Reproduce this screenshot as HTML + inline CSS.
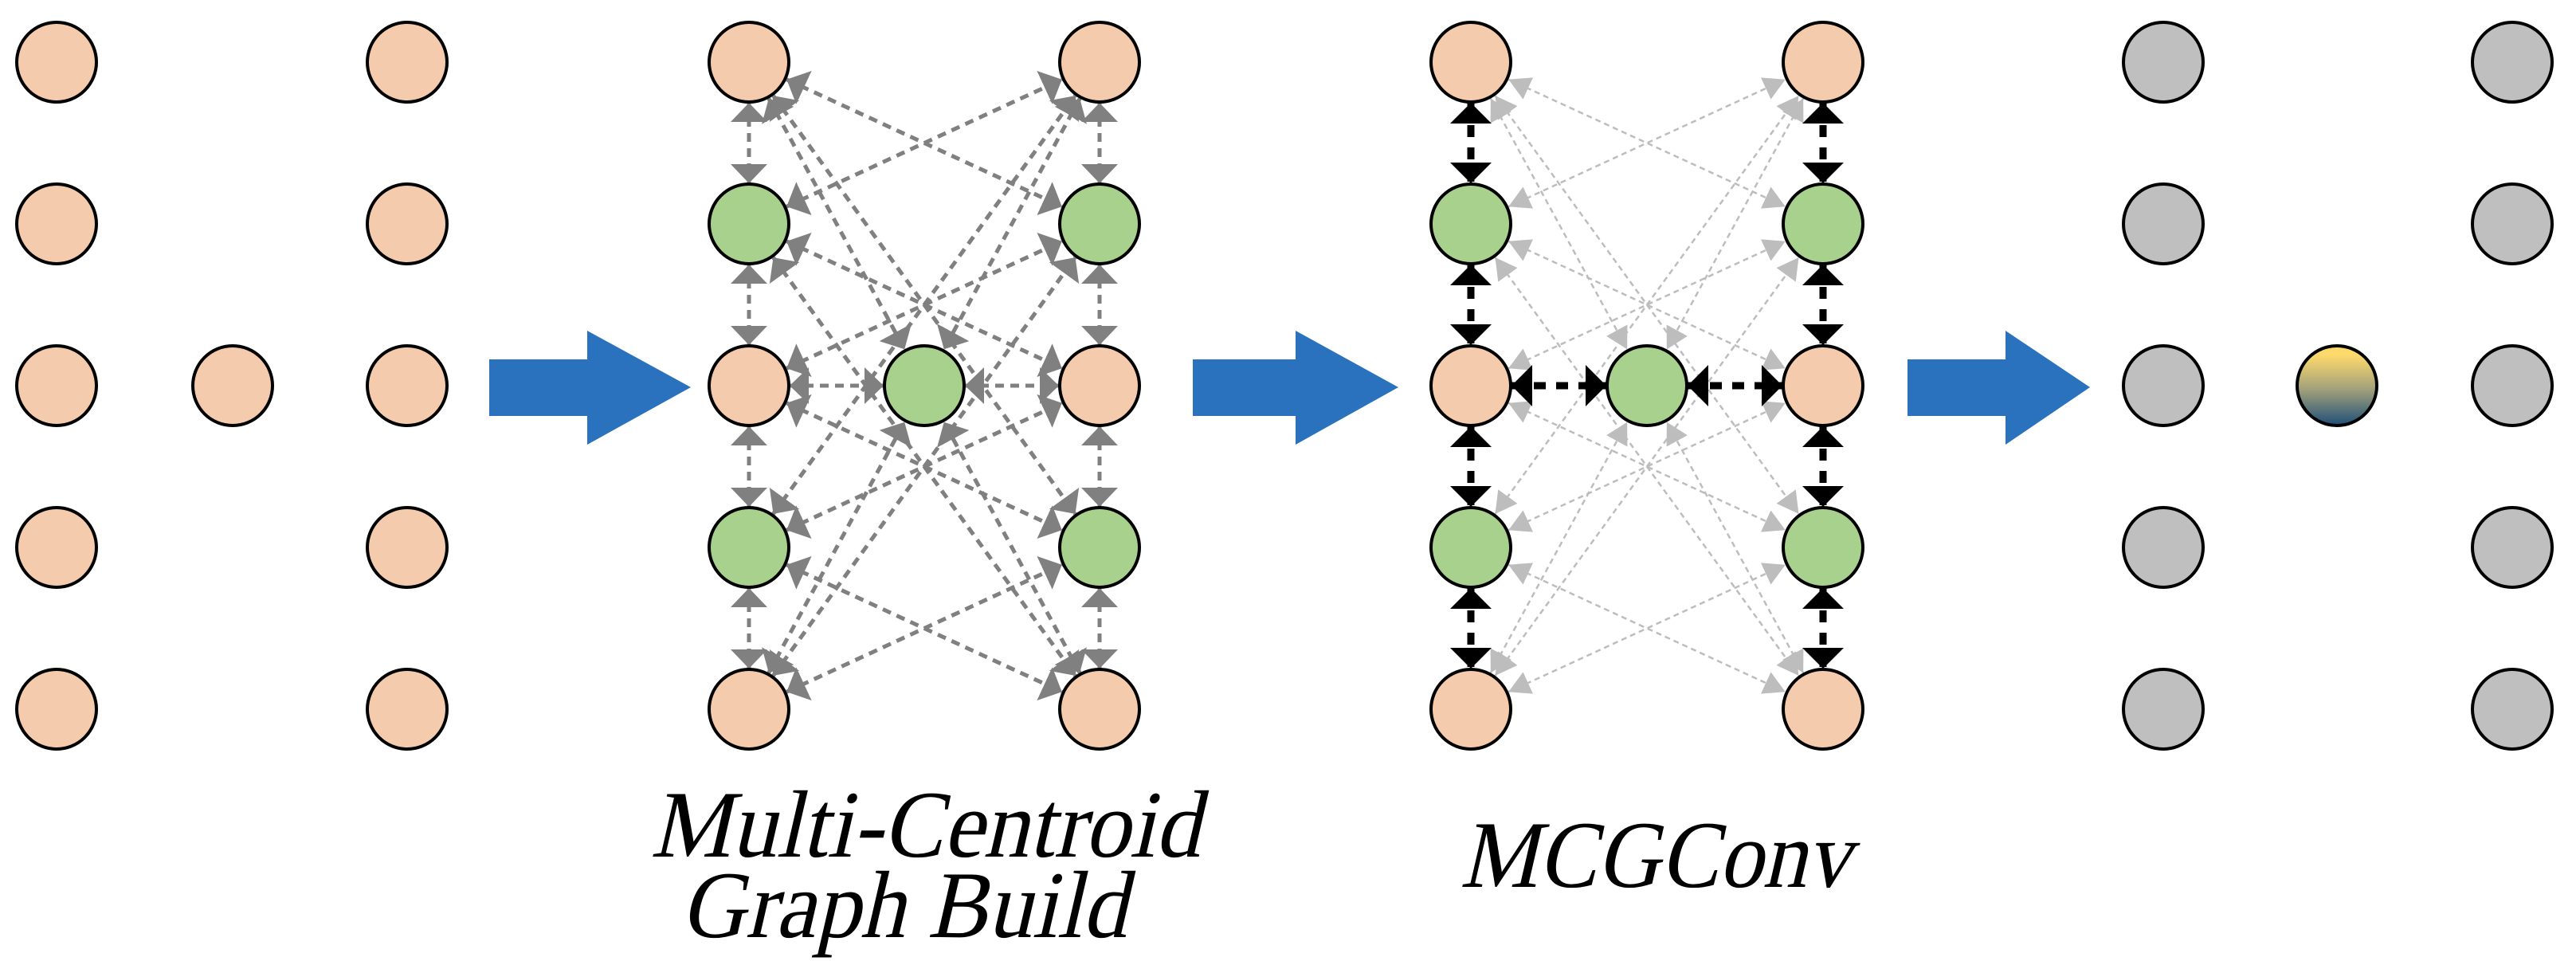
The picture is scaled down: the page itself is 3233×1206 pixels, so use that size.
<!DOCTYPE html>
<html><head><meta charset="utf-8"><style>
html,body{margin:0;padding:0;background:#fff;}
svg{display:block}
.t{font-family:"Liberation Serif","DejaVu Serif",serif;font-style:normal;font-size:120px;fill:#000;}
</style></head><body>
<svg id="s" width="3233" height="1206" viewBox="0 0 3233 1206" xmlns="http://www.w3.org/2000/svg">
<defs>
<linearGradient id="g" x1="0" y1="0" x2="0" y2="1">
<stop offset="0.12" stop-color="#fdd96c"/><stop offset="0.55" stop-color="#a0a07a"/><stop offset="1" stop-color="#1f4e79"/>
</linearGradient>
<marker id="mg" viewBox="0 0 24 46" refX="24" refY="23" markerWidth="24" markerHeight="46" markerUnits="userSpaceOnUse" orient="auto-start-reverse"><path d="M0,0 L24,23 L0,46 Z" fill="#808080"/></marker>
<marker id="ml" viewBox="0 0 27 30" refX="27" refY="15" markerWidth="27" markerHeight="30" markerUnits="userSpaceOnUse" orient="auto-start-reverse"><path d="M0,0 L27,15 L0,30 Z" fill="#bdbdbd"/></marker>
<marker id="mb" viewBox="0 0 26 52" refX="26" refY="26" markerWidth="26" markerHeight="52" markerUnits="userSpaceOnUse" orient="auto-start-reverse"><path d="M0,0 L26,26 L0,52 Z" fill="#000"/></marker>
</defs>
<g id="edges"></g>
<g id="nodes" stroke="#000" stroke-width="4"></g>
<polygon points="614,451 737,451 737,415 867,486 737,558 737,522 614,522" fill="#2a72bd"/>
<polygon points="1497,451 1626,451 1626,415 1755,486 1626,558 1626,522 1497,522" fill="#2a72bd"/>
<polygon points="2394,451 2517,451 2517,415 2623,486 2517,558 2517,522 2394,522" fill="#2a72bd"/>
<g transform="translate(1161,1075) skewX(-13)"><text class="t" x="0" y="0" text-anchor="middle" textLength="690" lengthAdjust="spacingAndGlyphs">Multi-Centroid</text></g>
<g transform="translate(1134,1176) skewX(-13)"><text class="t" x="0" y="0" text-anchor="middle" textLength="560" lengthAdjust="spacingAndGlyphs">Graph Build</text></g>
<g transform="translate(2077,1113) skewX(-13)"><text class="t" x="0" y="0" text-anchor="middle" textLength="490" lengthAdjust="spacingAndGlyphs">MCGConv</text></g>
</svg>
<script>
(function(){
var NS="http://www.w3.org/2000/svg";
var rows=[78,281,484,687,890], R=50;
var nodes=document.getElementById('nodes'), edges=document.getElementById('edges');
var O="#f4cbac",G="#a9d18e",Y="#bfbfbf";
function c(x,y,f){var e=document.createElementNS(NS,'circle');e.setAttribute('cx',x);e.setAttribute('cy',y);e.setAttribute('r',R);e.setAttribute('fill',f);nodes.appendChild(e);}
function ln(a,b,st,mk,w,da,gap){var dx=b[0]-a[0],dy=b[1]-a[1],d=Math.hypot(dx,dy),ux=dx/d,uy=dy/d;
var e=document.createElementNS(NS,'line');
e.setAttribute('x1',a[0]+ux*(R+gap));e.setAttribute('y1',a[1]+uy*(R+gap));
e.setAttribute('x2',b[0]-ux*(R+gap));e.setAttribute('y2',b[1]-uy*(R+gap));
e.setAttribute('stroke',st);e.setAttribute('stroke-width',w);e.setAttribute('stroke-dasharray',da);
e.setAttribute('marker-start','url(#'+mk+')');e.setAttribute('marker-end','url(#'+mk+')');edges.appendChild(e);}
[71,292,511].forEach(function(x,i){rows.forEach(function(y,j){if(i==1&&j!=2)return;c(x,y,O);});});
[2715,2933,3153].forEach(function(x,i){rows.forEach(function(y,j){if(i==1&&j!=2)return;c(x,y,i==1?'url(#g)':Y);});});
function graph(Lx,Cx,Rx,light){
 var L=rows.map(function(y){return[Lx,y]}),Rr=rows.map(function(y){return[Rx,y]}),C=[Cx,rows[2]];
 var st=light?"#bdbdbd":"#808080",mk=light?"ml":"mg",w=light?2.5:5,da=light?"7 5":"11 8";
 for(var i=0;i<5;i++)for(var j=0;j<5;j++){var d=Math.abs(i-j);if(d==1||d==3)ln(L[i],Rr[j],st,mk,w,da,2);}
 [0,4].forEach(function(i){ln(L[i],C,st,mk,w,da,2);ln(Rr[i],C,st,mk,w,da,2);});
 var bs=light?"#000":st,bm=light?"mb":mk,bw=light?9:w,bd=light?"15 13":da;
 for(var i=0;i<4;i++){ln(L[i],L[i+1],bs,bm,bw,bd,1);ln(Rr[i],Rr[i+1],bs,bm,bw,bd,1);}
 ln(L[2],C,bs,bm,bw,bd,1);ln(C,Rr[2],bs,bm,bw,bd,1);
 rows.forEach(function(y,j){c(Lx,y,(j==1||j==3)?G:O);c(Rx,y,(j==1||j==3)?G:O);});
 c(Cx,rows[2],G);
}
graph(940,1160,1380,false);
graph(1846,2067,2288,true);
})();
</script>
</body></html>
